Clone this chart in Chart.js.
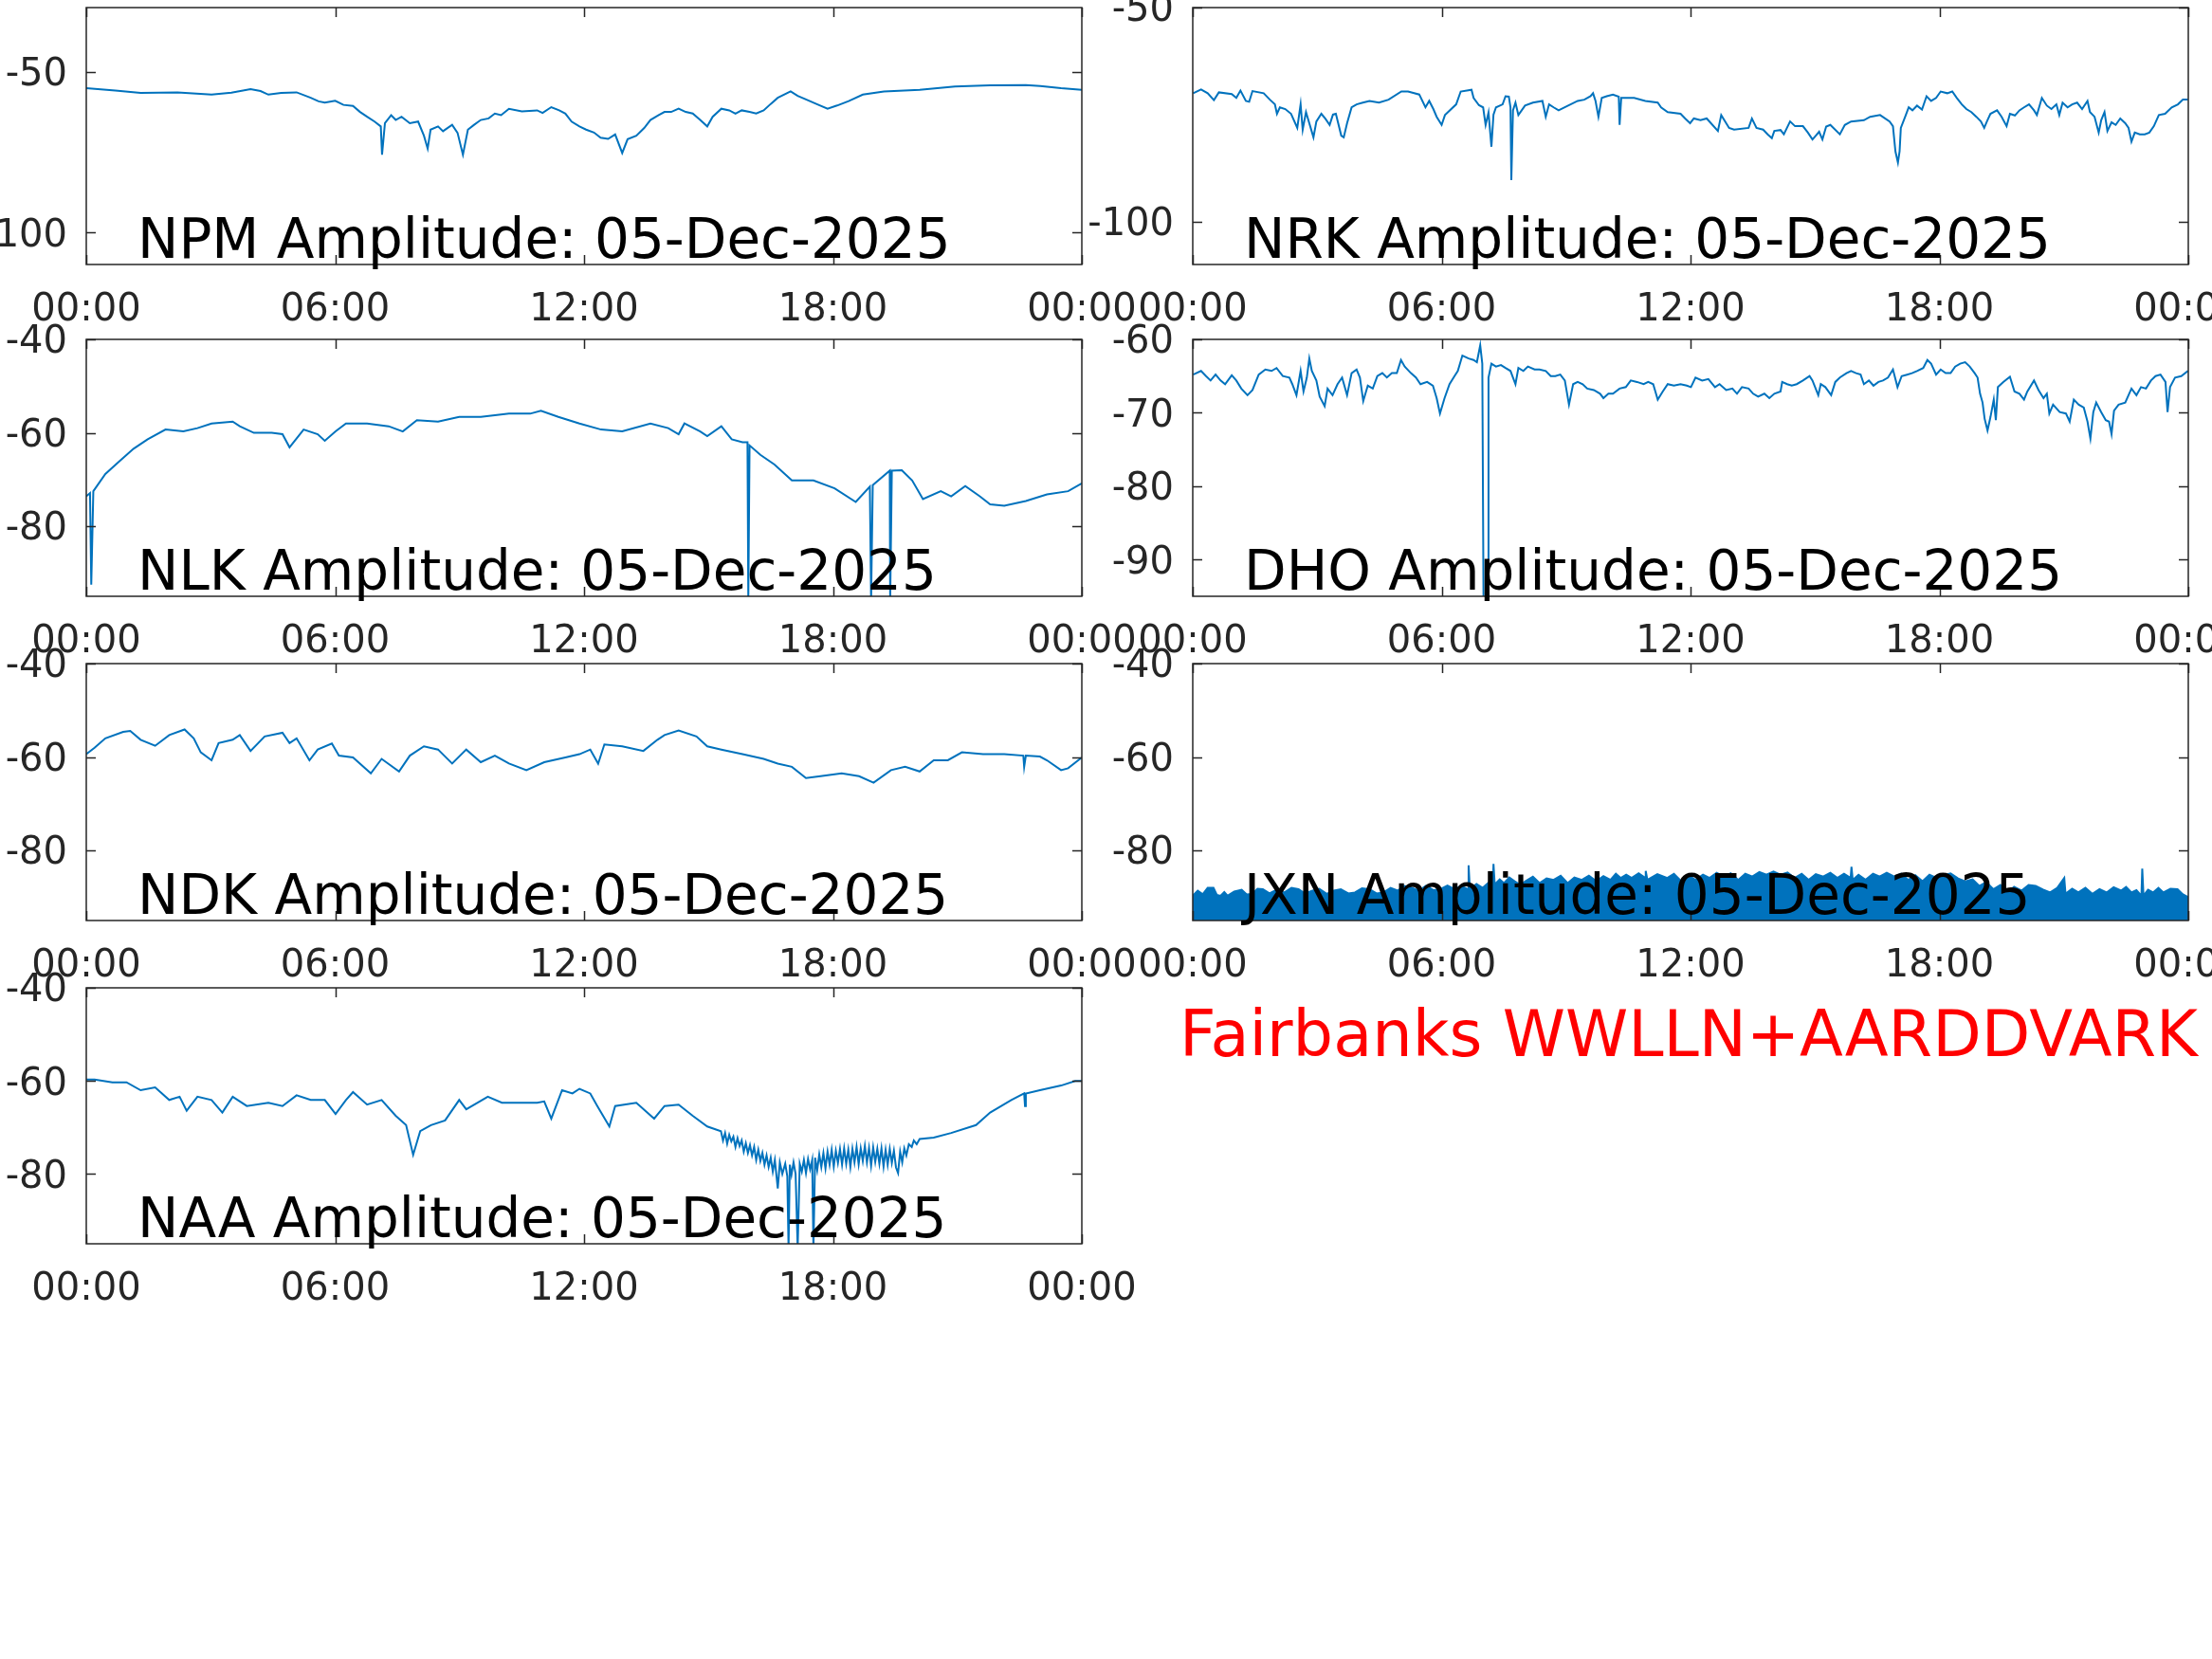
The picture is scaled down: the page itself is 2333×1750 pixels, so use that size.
<!DOCTYPE html>
<html>
<head>
<meta charset="utf-8">
<script src="https://cdn.jsdelivr.net/npm/chart.js@4.4.1/dist/chart.umd.min.js"></script>
<style>
html,body{margin:0;padding:0;background:#ffffff;width:2333px;height:1750px;overflow:hidden;}
canvas{position:absolute;}
</style>
</head>
<body>
<script>
// ---------------- DATA ----------------
const dateLabel = "05-Dec-2025";
const footerText = "Fairbanks WWLLN+AARDDVARK";
const xTickHours = [0, 6, 12, 18, 24];
const xTickLabels = ["00:00", "06:00", "12:00", "18:00", "00:00"];

const stationNames = ["NPM", "NRK", "NLK", "DHO", "NDK", "JXN", "NAA"];
const yMins = [-110, -110, -95, -95, -95, -95, -95];
const yMaxs = [-30, -50, -40, -60, -40, -40, -40];
const yTickSets = [[-100, -50], [-100, -50], [-80, -60, -40], [-90, -80, -70, -60], [-80, -60, -40], [-80, -60, -40], [-80, -60, -40]];

// [hour, amplitude dB]
const npmPoints = [[0,-55.1],[0.7,-55.8],[1.31,-56.6],[2.2,-56.4],[3.02,-57.1],[3.5,-56.5],[3.96,-55.4],[4.2,-56.0],[4.39,-57.1],[4.7,-56.6],[5.07,-56.4],[5.41,-58.1],[5.6,-59.2],[5.75,-59.6],[6.0,-59.0],[6.2,-60.3],[6.43,-60.6],[6.6,-62.5],[6.77,-64.0],[6.95,-65.5],[7.1,-67.0],[7.13,-75.8],[7.2,-66.0],[7.35,-63.5],[7.46,-65.0],[7.6,-64.0],[7.8,-66.0],[8.0,-65.5],[8.14,-69.9],[8.23,-73.9],[8.3,-68.0],[8.48,-67.0],[8.6,-68.5],[8.82,-66.5],[8.95,-69.0],[9.08,-75.8],[9.2,-68.0],[9.35,-66.5],[9.51,-65.0],[9.7,-64.5],[9.85,-63.0],[10.0,-63.5],[10.19,-61.5],[10.5,-62.3],[10.87,-62.0],[11.0,-62.8],[11.21,-61.0],[11.4,-62.0],[11.55,-63.0],[11.7,-65.5],[11.89,-67.0],[12.05,-68.0],[12.24,-68.9],[12.4,-70.5],[12.58,-70.9],[12.75,-69.5],[12.92,-75.3],[13.05,-71.0],[13.26,-69.9],[13.45,-67.5],[13.6,-65.0],[13.8,-63.5],[13.94,-62.5],[14.1,-62.5],[14.28,-61.5],[14.45,-62.5],[14.62,-63.0],[14.8,-65.0],[14.97,-67.0],[15.1,-64.0],[15.31,-61.5],[15.5,-62.0],[15.65,-63.0],[15.8,-62.0],[15.99,-62.5],[16.15,-63.0],[16.33,-62.0],[16.5,-60.0],[16.67,-58.1],[16.98,-56.1],[17.15,-57.5],[17.35,-58.6],[17.6,-60.0],[17.87,-61.5],[18.1,-60.5],[18.38,-59.1],[18.72,-57.1],[19.23,-56.1],[20.09,-55.6],[20.94,-54.6],[21.79,-54.2],[22.65,-54.1],[23.0,-54.4],[23.5,-55.1],[24.0,-55.6]];

const nrkPoints = [[0.01,-70.0],[0.2,-69.1],[0.36,-70.0],[0.51,-71.6],[0.63,-69.8],[0.94,-70.2],[1.05,-71.1],[1.15,-69.4],[1.28,-71.8],[1.36,-72.0],[1.44,-69.5],[1.71,-70.0],[1.86,-71.5],[1.98,-72.6],[2.03,-74.8],[2.1,-73.3],[2.23,-73.7],[2.37,-74.8],[2.52,-78.1],[2.6,-72.6],[2.65,-78.5],[2.73,-74.4],[2.91,-80.3],[2.98,-76.6],[3.1,-74.8],[3.2,-76.0],[3.3,-77.4],[3.38,-75.0],[3.45,-74.8],[3.58,-79.9],[3.64,-80.3],[3.72,-77.0],[3.83,-73.3],[3.95,-72.6],[4.1,-72.2],[4.26,-71.8],[4.49,-72.2],[4.72,-71.5],[5.03,-69.6],[5.19,-69.6],[5.46,-70.3],[5.61,-73.3],[5.7,-71.8],[5.8,-73.7],[5.88,-75.5],[6.0,-77.4],[6.08,-75.1],[6.35,-72.6],[6.46,-69.6],[6.72,-69.2],[6.77,-71.1],[6.9,-72.8],[7.0,-73.3],[7.06,-77.4],[7.13,-74.5],[7.2,-82.5],[7.25,-75.0],[7.31,-73.3],[7.47,-72.6],[7.54,-70.7],[7.62,-70.8],[7.66,-73.3],[7.68,-90.3],[7.72,-74.0],[7.78,-72.2],[7.85,-75.1],[8.01,-72.9],[8.2,-72.2],[8.43,-71.8],[8.51,-75.5],[8.59,-72.6],[8.7,-73.3],[8.82,-74.0],[9.05,-72.9],[9.28,-71.8],[9.44,-71.5],[9.59,-70.7],[9.65,-70.0],[9.71,-71.8],[9.78,-75.5],[9.86,-71.1],[9.98,-70.7],[10.13,-70.3],[10.27,-70.8],[10.29,-77.4],[10.33,-71.1],[10.64,-71.1],[10.91,-71.8],[11.21,-72.2],[11.29,-73.3],[11.45,-74.4],[11.76,-74.8],[11.87,-75.9],[11.99,-77.0],[12.08,-75.9],[12.24,-76.3],[12.39,-75.9],[12.66,-78.8],[12.74,-75.1],[12.93,-78.1],[13.05,-78.5],[13.4,-78.1],[13.48,-75.9],[13.59,-78.1],[13.75,-78.5],[13.86,-79.6],[13.96,-80.5],[14.02,-78.8],[14.17,-78.6],[14.25,-79.6],[14.4,-76.6],[14.52,-77.7],[14.71,-77.7],[14.83,-79.2],[14.94,-80.8],[15.02,-79.9],[15.1,-79.0],[15.18,-80.8],[15.27,-77.8],[15.37,-77.4],[15.6,-79.6],[15.72,-77.4],[15.87,-76.6],[16.18,-76.3],[16.33,-75.5],[16.57,-75.1],[16.8,-76.6],[16.88,-77.7],[16.94,-83.6],[17.0,-86.2],[17.04,-83.6],[17.07,-78.1],[17.19,-75.1],[17.26,-73.3],[17.35,-74.0],[17.46,-72.9],[17.58,-73.8],[17.69,-70.7],[17.8,-71.8],[17.92,-71.1],[18.03,-69.6],[18.19,-70.0],[18.31,-69.6],[18.42,-71.1],[18.54,-72.6],[18.65,-73.7],[18.77,-74.4],[18.89,-75.5],[19.0,-76.6],[19.08,-78.1],[19.15,-76.5],[19.23,-74.8],[19.39,-74.0],[19.5,-75.5],[19.62,-77.7],[19.7,-74.8],[19.82,-75.2],[19.93,-74.0],[20.04,-73.3],[20.16,-72.6],[20.28,-74.0],[20.35,-75.1],[20.47,-71.1],[20.59,-72.9],[20.7,-73.7],[20.82,-72.6],[20.89,-75.1],[20.97,-72.2],[21.09,-73.3],[21.2,-72.6],[21.32,-72.2],[21.44,-73.7],[21.57,-71.8],[21.63,-74.4],[21.74,-75.5],[21.84,-79.2],[21.9,-76.3],[21.98,-74.4],[22.05,-78.8],[22.15,-76.8],[22.25,-77.4],[22.36,-75.9],[22.48,-77.0],[22.56,-78.1],[22.63,-81.3],[22.71,-79.2],[22.83,-79.6],[22.95,-79.6],[23.06,-79.2],[23.17,-77.7],[23.29,-75.1],[23.44,-74.8],[23.6,-73.3],[23.75,-72.6],[23.87,-71.5],[23.99,-71.5]];

const nlkPoints = [[0,-73.6],[0.09,-72.9],[0.12,-92.5],[0.17,-72.5],[0.46,-68.8],[0.8,-66.1],[1.14,-63.4],[1.48,-61.4],[1.91,-59.3],[2.34,-59.7],[2.68,-59.0],[3.02,-58.0],[3.53,-57.6],[3.7,-58.6],[4.04,-60.0],[4.47,-60.0],[4.73,-60.3],[4.9,-63.1],[5.24,-59.3],[5.58,-60.3],[5.75,-61.7],[6.01,-59.7],[6.26,-58.0],[6.77,-58.0],[7.29,-58.6],[7.63,-59.7],[7.97,-57.3],[8.48,-57.6],[8.99,-56.6],[9.51,-56.6],[10.19,-55.9],[10.7,-55.9],[10.96,-55.3],[11.38,-56.6],[11.89,-58.0],[12.41,-59.3],[12.92,-59.7],[13.6,-58.0],[14.03,-59.0],[14.28,-60.3],[14.42,-58.0],[14.8,-59.7],[14.97,-60.7],[15.31,-58.6],[15.56,-61.4],[15.82,-62.0],[15.94,-62.0],[15.96,-96],[15.99,-62.7],[16.25,-64.7],[16.59,-66.8],[17.01,-70.2],[17.53,-70.2],[18.04,-71.9],[18.55,-74.8],[18.89,-71.5],[18.92,-96],[18.96,-71.2],[19.37,-68.1],[19.38,-96],[19.42,-68.1],[19.66,-68.0],[19.91,-70.2],[20.17,-74.2],[20.6,-72.5],[20.85,-73.6],[21.19,-71.4],[21.54,-73.6],[21.79,-75.3],[22.13,-75.6],[22.65,-74.6],[23.16,-73.2],[23.67,-72.5],[24.0,-70.8]];

const dhoPoints = [[0.01,-64.8],[0.2,-64.3],[0.32,-65.0],[0.43,-65.6],[0.55,-64.8],[0.67,-65.6],[0.78,-66.1],[0.94,-64.9],[1.05,-65.6],[1.17,-66.7],[1.32,-67.6],[1.44,-66.9],[1.59,-64.8],[1.75,-64.1],[1.9,-64.3],[2.02,-63.9],[2.17,-65.0],[2.33,-65.2],[2.4,-66.1],[2.5,-67.6],[2.6,-64.3],[2.67,-67.1],[2.75,-65.2],[2.81,-62.6],[2.87,-64.3],[2.98,-65.6],[3.06,-67.8],[3.18,-69.1],[3.25,-66.7],[3.37,-67.6],[3.49,-66.1],[3.6,-65.2],[3.72,-67.6],[3.83,-64.6],[3.95,-64.1],[4.03,-65.2],[4.11,-68.4],[4.22,-66.3],[4.34,-66.7],[4.45,-65.0],[4.57,-64.6],[4.68,-65.2],[4.8,-64.6],[4.92,-64.6],[5.02,-62.8],[5.11,-63.7],[5.26,-64.6],[5.38,-65.2],[5.49,-66.1],[5.65,-65.8],[5.79,-66.3],[5.88,-68.0],[5.96,-70.1],[6.07,-68.0],[6.19,-66.1],[6.31,-65.0],[6.39,-64.3],[6.5,-62.2],[6.65,-62.6],[6.77,-62.8],[6.85,-63.1],[6.93,-60.8],[6.98,-63.3],[7.01,-96],[7.12,-96],[7.13,-65.2],[7.2,-63.3],[7.31,-63.7],[7.43,-63.5],[7.54,-63.9],[7.66,-64.3],[7.78,-66.1],[7.85,-63.9],[7.97,-64.3],[8.08,-63.7],[8.24,-64.1],[8.36,-64.1],[8.51,-64.3],[8.63,-65.0],[8.74,-65.0],[8.86,-64.8],[8.97,-65.6],[9.07,-68.9],[9.17,-66.1],[9.28,-65.8],[9.4,-66.1],[9.51,-66.7],[9.67,-66.9],[9.82,-67.4],[9.9,-68.0],[10.02,-67.4],[10.13,-67.4],[10.29,-66.7],[10.44,-66.5],[10.56,-65.6],[10.71,-65.8],[10.87,-66.1],[10.98,-65.8],[11.1,-66.1],[11.21,-68.2],[11.33,-67.1],[11.45,-66.1],[11.6,-66.3],[11.76,-66.1],[11.91,-66.3],[12.01,-66.5],[12.12,-65.2],[12.28,-65.6],[12.43,-65.4],[12.59,-66.5],[12.7,-66.1],[12.86,-66.9],[13.01,-66.7],[13.12,-67.4],[13.24,-66.5],[13.4,-66.7],[13.51,-67.4],[13.63,-67.8],[13.78,-67.4],[13.9,-68.0],[14.02,-67.4],[14.17,-67.1],[14.21,-65.8],[14.33,-66.1],[14.44,-66.3],[14.56,-66.1],[14.71,-65.6],[14.87,-65.0],[14.94,-65.6],[15.08,-67.6],[15.14,-66.1],[15.25,-66.5],[15.39,-67.6],[15.49,-65.8],[15.6,-65.2],[15.76,-64.6],[15.87,-64.3],[15.99,-64.6],[16.1,-64.8],[16.18,-66.1],[16.3,-65.6],[16.41,-66.3],[16.53,-65.8],[16.64,-65.6],[16.76,-65.2],[16.88,-64.1],[16.99,-66.5],[17.09,-65.0],[17.22,-64.8],[17.34,-64.6],[17.46,-64.3],[17.61,-63.9],[17.71,-62.8],[17.8,-63.3],[17.92,-64.8],[18.03,-64.1],[18.15,-64.6],[18.27,-64.6],[18.38,-63.7],[18.5,-63.3],[18.62,-63.1],[18.73,-63.7],[18.85,-64.6],[18.92,-65.2],[18.98,-67.4],[19.04,-68.6],[19.09,-70.8],[19.16,-72.4],[19.23,-70.6],[19.31,-68.2],[19.36,-71.0],[19.41,-66.5],[19.54,-65.8],[19.7,-65.1],[19.81,-67.1],[19.93,-67.4],[20.04,-68.2],[20.12,-67.1],[20.28,-65.6],[20.39,-66.9],[20.51,-68.0],[20.59,-67.4],[20.65,-70.1],[20.74,-68.9],[20.9,-69.9],[21.05,-70.1],[21.14,-71.2],[21.24,-68.2],[21.36,-68.9],[21.48,-69.3],[21.57,-71.2],[21.64,-73.5],[21.71,-69.9],[21.78,-68.6],[21.9,-69.9],[22.01,-71.0],[22.09,-71.2],[22.15,-72.9],[22.21,-69.7],[22.32,-68.9],[22.48,-68.6],[22.63,-66.7],[22.75,-67.6],[22.86,-66.5],[22.98,-66.7],[23.1,-65.6],[23.21,-65.0],[23.33,-64.8],[23.45,-65.8],[23.5,-69.9],[23.56,-66.5],[23.68,-65.2],[23.83,-65.0],[23.99,-64.3]];

const ndkPoints = [[0,-59.4],[0.2,-58.0],[0.46,-56.0],[0.89,-54.6],[1.06,-54.4],[1.31,-56.3],[1.66,-57.6],[2.0,-55.3],[2.37,-54.1],[2.59,-56.0],[2.76,-59.0],[3.02,-60.7],[3.19,-57.0],[3.53,-56.3],[3.7,-55.3],[3.96,-58.7],[4.3,-55.6],[4.73,-54.8],[4.9,-57.0],[5.07,-56.0],[5.38,-60.7],[5.58,-58.4],[5.92,-57.1],[6.09,-59.7],[6.43,-60.1],[6.86,-63.5],[7.12,-60.4],[7.54,-63.1],[7.8,-59.7],[8.14,-57.7],[8.48,-58.4],[8.82,-61.4],[9.16,-58.4],[9.51,-61.1],[9.85,-59.7],[10.19,-61.4],[10.61,-62.8],[11.04,-61.1],[11.55,-60.1],[11.89,-59.4],[12.15,-58.4],[12.34,-61.4],[12.49,-57.3],[12.92,-57.7],[13.43,-58.7],[13.77,-56.3],[13.94,-55.3],[14.28,-54.3],[14.71,-55.6],[14.97,-57.7],[15.31,-58.4],[15.82,-59.4],[16.33,-60.4],[16.67,-61.4],[17.01,-62.1],[17.35,-64.5],[17.7,-64.1],[18.21,-63.5],[18.63,-64.1],[18.98,-65.5],[19.4,-62.8],[19.74,-62.1],[20.09,-63.1],[20.43,-60.7],[20.77,-60.7],[21.11,-59.0],[21.62,-59.4],[22.13,-59.4],[22.59,-59.7],[22.61,-62.1],[22.65,-59.7],[22.99,-59.9],[23.16,-60.7],[23.5,-62.8],[23.67,-62.4],[24.0,-60.1]];

const jxnPoints = [[0,-89.7],[0.12,-88.6],[0.24,-89.4],[0.36,-88.0],[0.5,-88.0],[0.58,-89.5],[0.67,-89.7],[0.76,-88.9],[0.84,-89.7],[1.0,-88.8],[1.18,-88.4],[1.3,-89.4],[1.44,-89.3],[1.56,-88.2],[1.69,-88.3],[1.85,-89.2],[2.0,-88.5],[2.21,-89.0],[2.38,-88.0],[2.55,-88.3],[2.7,-89.2],[2.89,-88.6],[3.05,-88.2],[3.23,-89.3],[3.4,-88.6],[3.57,-88.3],[3.75,-89.2],[3.91,-89.0],[4.08,-88.1],[4.26,-88.3],[4.43,-89.2],[4.6,-89.0],[4.77,-88.0],[4.94,-88.6],[5.1,-87.6],[5.28,-88.0],[5.45,-88.6],[5.62,-87.6],[5.8,-88.5],[5.97,-88.3],[6.14,-87.5],[6.31,-88.3],[6.47,-87.6],[6.63,-88.3],[6.65,-83.2],[6.68,-88.3],[6.84,-87.2],[6.99,-88.0],[7.12,-87.0],[7.23,-88.3],[7.25,-82.9],[7.28,-87.3],[7.4,-86.2],[7.5,-87.0],[7.63,-85.8],[7.76,-86.6],[7.9,-87.4],[8.02,-86.6],[8.2,-85.6],[8.36,-87.0],[8.53,-86.0],[8.7,-86.3],[8.87,-85.4],[9.04,-87.0],[9.2,-85.8],[9.38,-86.3],[9.55,-85.4],[9.73,-86.6],[9.9,-85.5],[10.07,-86.3],[10.2,-85.0],[10.32,-85.9],[10.45,-85.2],[10.58,-85.9],[10.75,-84.9],[10.91,-85.9],[10.92,-84.4],[10.96,-86.3],[11.2,-85.1],[11.44,-85.9],[11.6,-85.0],[11.78,-86.6],[11.95,-85.4],[12.12,-86.3],[12.3,-85.2],[12.46,-85.9],[12.63,-84.8],[12.8,-85.6],[12.97,-84.9],[13.15,-86.3],[13.32,-85.0],[13.49,-85.6],[13.66,-84.6],[13.83,-85.2],[14.0,-84.5],[14.17,-85.2],[14.34,-84.7],[14.51,-85.9],[14.68,-85.0],[14.85,-86.3],[15.02,-85.1],[15.2,-85.6],[15.37,-84.8],[15.54,-85.9],[15.7,-85.0],[15.86,-85.9],[15.88,-83.5],[15.91,-86.3],[16.05,-85.2],[16.22,-86.3],[16.4,-85.0],[16.56,-85.6],[16.73,-84.8],[16.91,-85.6],[17.08,-85.0],[17.25,-86.3],[17.42,-85.3],[17.59,-86.6],[17.76,-85.2],[17.93,-85.9],[18.1,-85.3],[18.27,-84.9],[18.45,-86.0],[18.62,-86.6],[18.8,-86.2],[18.96,-87.6],[19.13,-86.8],[19.3,-88.3],[19.47,-87.4],[19.64,-89.0],[19.8,-87.8],[19.98,-88.6],[20.15,-87.4],[20.32,-87.6],[20.5,-88.4],[20.67,-89.0],[20.84,-88.0],[21.01,-85.9],[21.04,-89.3],[21.2,-88.2],[21.35,-89.0],[21.52,-88.0],[21.69,-89.3],[21.86,-88.3],[22.03,-89.0],[22.2,-87.9],[22.38,-88.6],[22.5,-87.8],[22.63,-89.0],[22.75,-88.5],[22.87,-89.7],[22.89,-83.9],[22.92,-89.7],[23.03,-88.4],[23.15,-89.0],[23.28,-88.0],[23.4,-89.0],[23.57,-88.2],[23.74,-88.3],[23.87,-89.4],[24.0,-90.0]];

const naaPoints = [[0,-59.7],[0.2,-59.7],[0.63,-60.3],[0.97,-60.3],[1.31,-62.0],[1.66,-61.4],[2.0,-64.1],[2.25,-63.4],[2.42,-66.4],[2.68,-63.4],[3.02,-64.1],[3.28,-66.8],[3.53,-63.4],[3.87,-65.4],[4.39,-64.7],[4.73,-65.4],[5.07,-63.1],[5.41,-64.1],[5.75,-64.1],[6.01,-67.1],[6.26,-64.1],[6.43,-62.4],[6.77,-65.1],[7.12,-64.1],[7.46,-67.5],[7.71,-69.5],[7.88,-75.9],[8.05,-70.8],[8.31,-69.5],[8.65,-68.5],[8.99,-64.1],[9.16,-66.1],[9.68,-63.4],[10.02,-64.7],[10.36,-64.7],[10.87,-64.7],[11.04,-64.4],[11.21,-68.1],[11.47,-62.0],[11.72,-62.7],[11.89,-61.7],[12.15,-62.7],[12.32,-65.4],[12.61,-69.8],[12.75,-65.4],[13.26,-64.7],[13.69,-68.1],[13.94,-65.4],[14.28,-65.1],[14.62,-67.5],[14.97,-69.8],[15.3,-70.8],[15.35,-72.8],[15.4,-71.2],[15.45,-73.5],[15.5,-71.6],[15.55,-73.0],[15.6,-72.0],[15.65,-74.2],[15.7,-72.3],[15.75,-74.0],[15.8,-72.8],[15.85,-75.2],[15.9,-73.4],[15.95,-75.5],[16.0,-73.8],[16.05,-76.0],[16.1,-74.2],[16.15,-77.0],[16.2,-74.8],[16.25,-77.2],[16.3,-75.5],[16.35,-78.0],[16.4,-76.0],[16.45,-78.5],[16.5,-76.5],[16.55,-79.5],[16.6,-77.0],[16.67,-83.1],[16.72,-77.5],[16.78,-80.0],[16.85,-77.8],[16.9,-80.5],[16.93,-96],[16.96,-78.0],[17.0,-80.2],[17.05,-77.5],[17.1,-80.0],[17.15,-96],[17.2,-77.8],[17.25,-79.5],[17.3,-77.0],[17.35,-79.8],[17.4,-76.8],[17.45,-79.0],[17.5,-77.0],[17.53,-96],[17.57,-76.5],[17.62,-79.2],[17.67,-75.8],[17.72,-78.5],[17.77,-75.5],[17.82,-78.8],[17.87,-75.2],[17.92,-78.0],[17.97,-74.8],[18.02,-78.4],[18.07,-75.0],[18.12,-77.6],[18.17,-74.6],[18.22,-78.0],[18.27,-74.5],[18.32,-77.8],[18.37,-74.8],[18.42,-78.5],[18.47,-74.6],[18.52,-77.5],[18.57,-74.2],[18.62,-77.9],[18.67,-74.5],[18.72,-77.2],[18.77,-74.0],[18.82,-77.5],[18.87,-74.4],[18.92,-78.2],[18.97,-74.3],[19.02,-77.4],[19.07,-74.6],[19.12,-77.8],[19.17,-74.5],[19.22,-78.4],[19.27,-74.8],[19.32,-78.0],[19.37,-74.6],[19.42,-77.6],[19.47,-75.0],[19.52,-78.6],[19.57,-79.8],[19.62,-75.2],[19.67,-77.5],[19.72,-74.5],[19.77,-76.0],[19.83,-73.6],[19.9,-74.2],[19.95,-72.8],[20.02,-73.6],[20.09,-72.5],[20.43,-72.2],[20.85,-71.2],[21.45,-69.5],[21.79,-66.8],[22.3,-64.1],[22.61,-62.7],[22.63,-65.4],[22.65,-62.7],[22.99,-62.0],[23.5,-61.0],[23.84,-60.0],[24.0,-60.0]];

const seriesPoints = [npmPoints, nrkPoints, nlkPoints, dhoPoints, ndkPoints, jxnPoints, naaPoints];

// ---------------- LAYOUT ----------------
const PAGE_W = 2333;
const colLeft = [91, 1258], colRight = [1141, 2308];
const rowTop = [8, 358, 700, 1042], rowBottom = [279, 629, 971, 1312];
const panelCol = [0, 1, 0, 1, 0, 1, 0];
const panelRow = [0, 0, 1, 1, 2, 2, 3];
const canvasX = [-40, 1128];
const canvasRight = [1222, PAGE_W];
const WY = 110, HX = 80, TICK = 10;
const AXIS_COLOR = '#262626';
const LINE_COLOR = '#0072BD';
const FONT = '"DejaVu Sans", "Liberation Sans", sans-serif';

const boxPlugin = {
  id: 'box',
  afterDatasetsDraw(chart) {
    const {ctx, chartArea: a, scales: {x, y}} = chart;
    ctx.save();
    ctx.strokeStyle = AXIS_COLOR;
    ctx.lineWidth = 1.5;
    ctx.beginPath();
    x.ticks.forEach(t => {
      const px = Math.round(x.getPixelForValue(t.value)) + 0.5;
      ctx.moveTo(px, a.top); ctx.lineTo(px, a.top + TICK);
      ctx.moveTo(px, a.bottom); ctx.lineTo(px, a.bottom - TICK);
    });
    y.ticks.forEach(t => {
      const py = Math.round(y.getPixelForValue(t.value)) + 0.5;
      ctx.moveTo(a.left, py); ctx.lineTo(a.left + TICK, py);
      ctx.moveTo(a.right, py); ctx.lineTo(a.right - TICK, py);
    });
    ctx.stroke();
    ctx.strokeRect(a.left, a.top, a.right - a.left, a.bottom - a.top);
    ctx.restore();
  },
  afterDraw(chart, args, opts) {
    const {ctx, chartArea: a} = chart;
    ctx.save();
    ctx.fillStyle = '#000000';
    ctx.font = '58px ' + FONT;
    ctx.textAlign = 'left';
    ctx.textBaseline = 'alphabetic';
    ctx.fillText(opts.title, a.left + 54, a.bottom - 7);
    if (opts.footer) {
      ctx.fillStyle = '#FF0000';
      ctx.font = '67px ' + FONT;
      ctx.fillText(opts.footer, a.left - 14, a.bottom + 143);
    }
    ctx.restore();
  }
};

stationNames.forEach((name, i) => {
  const col = panelCol[i], row = panelRow[i];
  const L = colLeft[col], R = colRight[col], T = rowTop[row], B = rowBottom[row];
  const cx = canvasX[col];
  const cw = canvasRight[col] - cx;
  const cy = Math.max(0, T - 40);
  const isJxn = name === 'JXN';
  const ch = B - cy + (isJxn ? 180 : 100);
  const cv = document.createElement('canvas');
  cv.width = cw; cv.height = ch;
  cv.style.left = cx + 'px'; cv.style.top = cy + 'px';
  cv.style.width = cw + 'px'; cv.style.height = ch + 'px';
  document.body.appendChild(cv);

  const yTicks = yTickSets[i];
  new Chart(cv, {
    type: 'line',
    data: {
      datasets: [{
        data: seriesPoints[i].map(p => ({x: p[0], y: p[1]})),
        borderColor: LINE_COLOR,
        backgroundColor: LINE_COLOR,
        borderWidth: 2,
        pointRadius: 0,
        tension: 0,
        fill: isJxn ? 'start' : false
      }]
    },
    options: {
      responsive: false,
      animation: false,
      devicePixelRatio: 1,
      layout: {padding: {left: L - cx - WY, top: T - cy, right: cx + cw - R, bottom: cy + ch - B - HX}},
      plugins: {
        legend: {display: false},
        tooltip: {enabled: false},
        title: {display: false},
        box: {title: name + ' Amplitude: ' + dateLabel, footer: isJxn ? footerText : null}
      },
      scales: {
        x: {
          type: 'linear', min: 0, max: 24,
          afterBuildTicks: s => { s.ticks = xTickHours.map(v => ({value: v})); },
          afterFit: s => { s.height = HX; s.paddingLeft = 0; s.paddingRight = 0; s.paddingTop = 0; s.paddingBottom = 0; },
          grid: {display: false, drawTicks: false},
          border: {display: false},
          ticks: {
            padding: 25, color: AXIS_COLOR, maxRotation: 0, minRotation: 0, autoSkip: false,
            font: {family: FONT, size: 40},
            callback: (v, idx) => xTickLabels[idx]
          }
        },
        y: {
          type: 'linear', min: yMins[i], max: yMaxs[i],
          afterBuildTicks: s => { s.ticks = yTicks.map(v => ({value: v})); },
          afterFit: s => { s.width = WY; s.paddingLeft = 0; s.paddingRight = 0; s.paddingTop = 0; s.paddingBottom = 0; },
          grid: {display: false, drawTicks: false},
          border: {display: false},
          ticks: {
            padding: 20, labelOffset: 4, color: AXIS_COLOR, autoSkip: false,
            font: {family: FONT, size: 40},
            callback: v => String(v)
          }
        }
      }
    },
    plugins: [boxPlugin]
  });
});
</script>
</body>
</html>
